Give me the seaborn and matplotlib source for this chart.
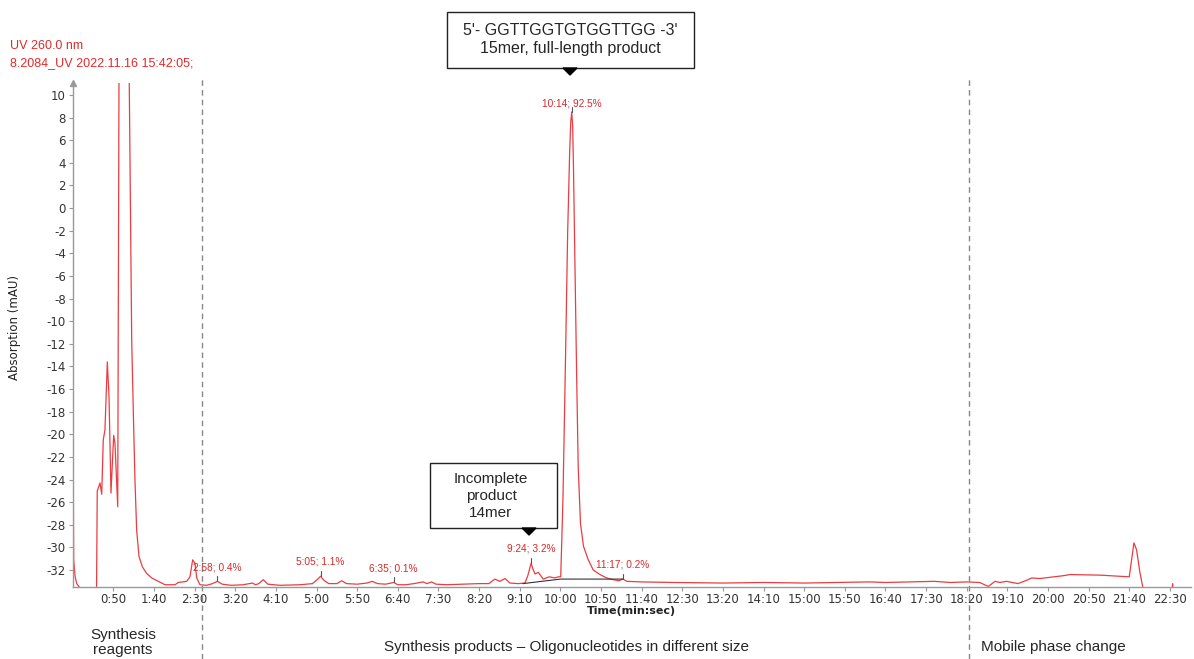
import numpy as np
import matplotlib
matplotlib.use('Agg')
import matplotlib.pyplot as plt
from matplotlib.patches import Rectangle, Polygon
import seaborn as sns

# Chromatogram trace, UV 260 nm (time in seconds, absorption in mAU)
time_s = [0, 0.6, 1.2, 3, 5, 8, 12, 29.3, 30.2, 33.6, 35.7, 37.6, 39.7, 42.6, 44.7,
          47.1, 50.4, 52.0, 55.4, 57.3, 59, 63, 66, 69.6, 72.6, 74.6, 76.6, 78.7, 81.6,
          85.6, 91.0, 97.2, 105.3, 113.6, 125.9, 129.9, 140.3, 144.3, 147.6, 150.5,
          152.6, 156.6, 165, 172, 178, 184, 195, 210, 221, 225, 229, 234.5, 240, 255,
          280, 295, 300, 305, 309, 315, 325, 331, 337, 350, 362, 368.5, 375, 385,
          395, 400, 410, 420, 431, 436, 441.5, 447, 460, 480, 500, 512, 519.5, 525.5,
          532, 538, 548, 556.5, 560, 564, 566.5, 569, 572.8, 579, 586.4, 593.4,
          597.5, 600.5, 603.2, 606.2, 609.0, 611.5, 612.8, 614, 615.2, 616.2, 618.0,
          620.0, 622.0, 624.8, 628.5, 634.4, 640.5, 648.8, 657, 665, 672, 677, 682,
          700, 740, 800, 850, 900, 980, 1000, 1060, 1080, 1100, 1116, 1126.5, 1135,
          1141, 1149, 1163, 1174, 1180, 1190, 1219, 1227, 1264, 1300, 1302.9, 1305.8,
          1309, 1313.1, 1317.2, 1320, 1350, 1352.5, 1353.4, 1354.3, 1360, 1376]
absorbance = [-3.9, -22, -31.1, -32.6, -33.2, -33.5, -34.0, -34.0, -25.0, -24.3, -25.3,
              -20.5, -19.6, -13.6, -16.7, -25.2, -20.1, -20.8, -26.4, 20, 45, 50, 38,
              11.1, -11.7, -18.1, -24.0, -28.5, -30.8, -31.7, -32.3, -32.7, -33.0, -33.3,
              -33.3, -33.1, -33.0, -32.6, -31.1, -31.4, -32.7, -33.3, -33.35, -33.2,
              -33.0, -33.25, -33.35, -33.3, -33.15, -33.3, -33.2, -32.85, -33.25, -33.35,
              -33.3, -33.2, -32.9, -32.55, -32.9, -33.2, -33.2, -32.95, -33.2, -33.25,
              -33.15, -33.0, -33.2, -33.25, -33.1, -33.3, -33.3, -33.2, -33.05, -33.2,
              -33.05, -33.25, -33.3, -33.25, -33.2, -33.2, -32.8, -33.0, -32.75, -33.15,
              -33.2, -33.15, -32.5, -31.4, -31.95, -32.35, -32.2, -32.8, -32.6, -32.7,
              -32.6, -32.6, -25.8, -14.0, -2.2, 5.0, 7.6, 8.5, 7.2, 3.5, -5.0,
              -14.5, -22.9, -27.9, -29.9, -31.1, -32.0, -32.4, -32.7, -32.85, -32.95,
              -32.8, -33.0, -33.05, -33.1, -33.15, -33.1, -33.15, -33.05, -33.1, -33.0,
              -33.1, -33.05, -33.1, -33.45, -33.0, -33.1, -33.0, -33.2, -32.9, -32.7,
              -32.75, -32.5, -32.4, -32.45, -32.6, -31.1, -29.6, -30.2, -32.2, -33.7,
              -34, -34, -34, -33.2, -34, -34, -34]

# Integrated peaks
peak_times = [178, 305, 395, 564, 614, 677]
peak_labels = ['2:58; 0.4%', '5:05; 1.1%', '6:35; 0.1%', '9:24; 3.2%',
               '10:14; 92.5%', '11:17; 0.2%']

# Integration baseline under the product peaks
base_times = [554, 600, 677]
base_values = [-33.2, -32.8, -32.8]

# Region boundaries (s) and y ticks
boundaries = [159, 1103]
x_ticks = list(range(50, 1351, 50))
y_ticks = list(range(-32, 11, 2))

W, H = 1194, 659


def fx(px):
    return px / W


def fy(py):
    return 1 - py / H


sns.set_style('white')
plt.rcParams['font.family'] = ['DejaVu Sans']
plt.rcParams['axes.unicode_minus'] = False

fig = plt.figure(figsize=(W / 100, H / 100), dpi=100)
ax = fig.add_axes([fx(72.7), fy(587), fx(1191 - 72.7), (587 - 83) / H])

red = '#ea3d42'
sns.lineplot(x=time_s, y=absorbance, ax=ax, color=red, linewidth=0.9,
             estimator=None, sort=False)
sns.lineplot(x=base_times, y=base_values, ax=ax, color='#333333', linewidth=0.8,
             estimator=None, sort=False)

# peak markers and labels
for t, lab in zip(peak_times, peak_labels):
    v = np.interp(t, time_s, absorbance)
    ax.plot([t, t], [v, v + 0.45], color='#555555', linewidth=0.8)
    off = -1 if lab.startswith('10:14') else 3
    ax.annotate(lab, (t, v + 0.45), xytext=(0, off), textcoords='offset points',
                ha='center', va='bottom', fontsize=7.3, color='#d52a2a',
                family=['Liberation Sans'])

ax.set_xlim(0, 1376)
ax.set_ylim(-33.5, 11.06)
ax.set_xticks(x_ticks)
ax.set_xticklabels([f'{t // 60}:{t % 60:02d}' for t in x_ticks])
ax.set_yticks(y_ticks)
ax.tick_params(axis='both', which='both', direction='out', length=3, width=0.8,
               color='#999999', labelcolor='#333333', labelsize=8.5, pad=2,
               bottom=True, left=True)
ax.tick_params(axis='x', pad=1.5)
for s in ['top', 'right']:
    ax.spines[s].set_visible(False)
for s in ['left', 'bottom']:
    ax.spines[s].set_color('#999999')
    ax.spines[s].set_linewidth(1.0)
ax.plot(0, 1.0, marker='^', markersize=4, color='#999999', transform=ax.transAxes,
        clip_on=False)
ax.set_xlabel('Time(min:sec)', fontsize=8, fontweight='bold', color='#222222',
              labelpad=0)
ax.set_ylabel('')
fig.text(fx(15), fy(328), 'Absorption (mAU)', rotation=90, ha='center', va='center',
         fontsize=8.5, color='#222222')

# region boundaries
for b in boundaries:
    ax.plot([b, b], [-39.9, 11.5], color='#888888', linewidth=1.0,
            linestyle=(0, (4, 3)), clip_on=False)

# header
fig.text(fx(10), fy(46), 'UV 260.0 nm', fontsize=9, color='#e02a2a', va='center',
         family=['Liberation Sans'])
fig.text(fx(10), fy(63), '8.2084_UV 2022.11.16 15:42:05;', fontsize=9,
         color='#e02a2a', va='center', family=['Liberation Sans'])

# callout boxes
fig.add_artist(Rectangle((fx(447), fy(68)), fx(694 - 447), (68 - 12) / H,
                         transform=fig.transFigure, facecolor='white',
                         edgecolor='#222222', linewidth=1.0))
fig.text(fx(570.5), fy(39.5), "5'- GGTTGGTGTGGTTGG -3'\n15mer, full-length product",
         ha='center', va='center', fontsize=11.5, linespacing=1.28,
         family=['Liberation Sans'])
fig.add_artist(Polygon([(fx(563), fy(68)), (fx(577), fy(68)), (fx(570), fy(75))],
                       transform=fig.transFigure, color='black'))

fig.add_artist(Rectangle((fx(430), fy(528)), fx(557 - 430), (528 - 463) / H,
                         transform=fig.transFigure, facecolor='white',
                         edgecolor='#222222', linewidth=1.0))
fig.text(fx(491), fy(496), 'Incomplete\nproduct\n14mer', ha='center', va='center',
         fontsize=11, linespacing=1.3, family=['Liberation Sans'])
fig.add_artist(Polygon([(fx(522), fy(528)), (fx(536), fy(528)), (fx(529), fy(535))],
                       transform=fig.transFigure, color='black'))

# region captions
fig.text(fx(123), fy(642.5), 'Synthesis\nreagents', ha='center', va='center',
         fontsize=11, linespacing=1.15, family=['Liberation Sans'])
fig.text(fx(567), fy(647), 'Synthesis products \u2013 Oligonucleotides in different size',
         ha='center', va='center', fontsize=11, family=['Liberation Sans'])
fig.text(fx(1053), fy(647), 'Mobile phase change', ha='center', va='center',
         fontsize=11, family=['Liberation Sans'])

fig.savefig('out.png', dpi=100)
